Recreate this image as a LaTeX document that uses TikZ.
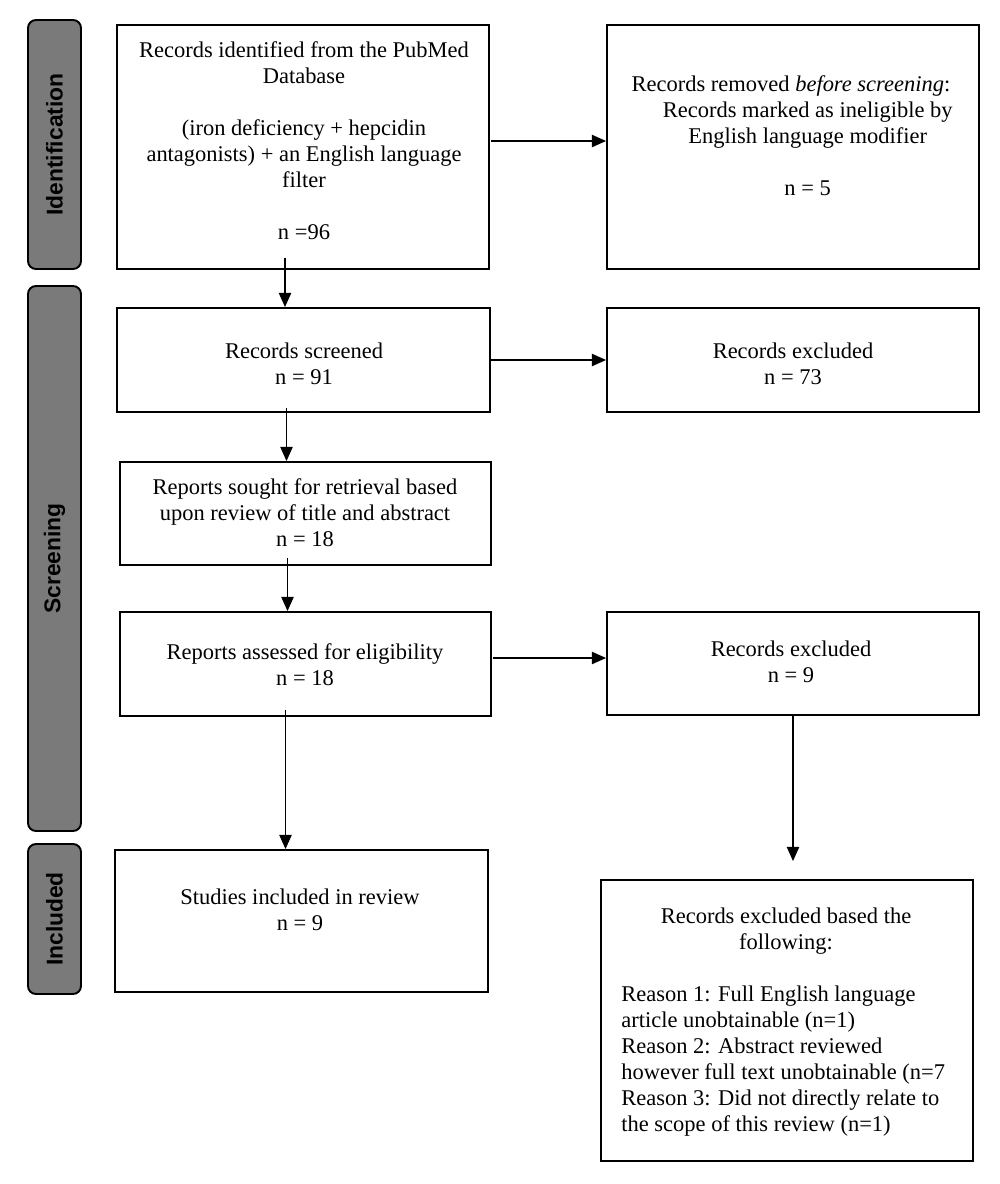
\documentclass[tikz,border=0pt]{standalone}
\usepackage{fontspec}
\setmainfont{Liberation Serif}
\newfontfamily\barfont{Liberation Sans}
\usetikzlibrary{arrows.meta,calc,fit}
\definecolor{barfill}{RGB}{122,122,122}
\begin{document}
\begin{tikzpicture}[x=0.02cm,y=-0.02cm,
  box/.style={draw=black,line width=1.1pt,rectangle,inner sep=0pt},
  bar/.style={draw=black,line width=1.1pt,fill=barfill,rounded corners=0.16cm,inner sep=0pt},
  barlabel/.style={rotate=90,font=\barfont\bfseries\fontsize{13}{15}\selectfont,text=black,inner sep=0pt},
  txt/.style={align=center,font=\fontsize{12.8}{14.8}\selectfont,inner sep=0pt},
  txtl/.style={align=left,font=\fontsize{12.8}{14.8}\selectfont,inner sep=0pt,anchor=west},
  arr/.style={-{Triangle[length=8pt,width=7pt]},line width=0.6pt}]
\useasboundingbox (0,0) rectangle (1000,1184);
% side bars
\node[bar,fit={(28,20)(81,269)}] (barI) {};
\node[bar,fit={(28,286)(81,831)}] (barS) {};
\node[bar,fit={(28,844)(81,994)}] (barN) {};
\node[barlabel] (lI) at (barI.center) {Identification};
\node[barlabel] (lS) at (barS.center) {Screening};
\node[barlabel] (lN) at (barN.center) {Included};
% boxes
\node[box,fit={(117,25)(489,269)}] (b1) {};
\node[box,fit={(607,25)(979,269)}] (b2) {};
\node[box,fit={(117,308)(490,412)}] (b3) {};
\node[box,fit={(607,308)(979,412)}] (b4) {};
\node[box,fit={(120,462)(491,565)}] (b5) {};
\node[box,fit={(120,612)(491,716)}] (b6) {};
\node[box,fit={(607,612)(979,715)}] (b7) {};
\node[box,fit={(115,850)(488,992)}] (b8) {};
\node[box,fit={(601,880)(973,1161)}] (b9) {};
% texts
\node[txt] (t1) at (304,141) {Records identified from the PubMed\\Database\\[\baselineskip](iron deficiency + hepcidin\\antagonists) + an English language\\filter\\[\baselineskip]n =96};
\node[txt] (t2) at (791,136) {Records removed \textit{before screening}:\\\hspace*{19pt}Records marked as ineligible by\\\hspace*{19pt}English language modifier\\[\baselineskip]\hspace*{19pt}n = 5};
\node[txt] (t3) at (304,364) {Records screened\\n = 91};
\node[txt] (t4) at (793,364) {Records excluded\\n = 73};
\node[txt] (t5) at (305,513) {Reports sought for retrieval based\\upon review of title and abstract\\n = 18};
\node[txt] (t6) at (305,665) {Reports assessed for eligibility\\n = 18};
\node[txt] (t7) at (791,662) {Records excluded\\n = 9};
\node[txt] (t8) at (300,910) {Studies included in review\\n = 9};
\node[txt] (t9a) at (786,931) {Records excluded based the\\following:};
\node[txtl] (t9b) at (621,1061) {Reason 1: Full English language\\article unobtainable (n=1)\\Reason 2: Abstract reviewed\\however full text unobtainable (n=7\\Reason 3: Did not directly relate to\\the scope of this review (n=1)};
% connector start/end points
\coordinate (s12) at ($(b1.east)+(1,-6)$);
\coordinate (s13) at ($(b1.south)+(-18,-12)$);
\coordinate (s35) at ($(b3.south)+(-17,-5)$);
\coordinate (s56) at ($(b5.south)+(-18,-8)$);
\coordinate (s67) at ($(b6.east)+(1,-6)$);
\coordinate (s68) at ($(b6.south)+(-20,-7)$);
\coordinate (e79) at ($(b7.south |- b9.north)+(0,-18)$);
% connectors
\draw[arr] (s12) -- (s12 -| b2.west);
\draw[arr] (s13) -- (s13 |- b3.north);
\draw[arr] (b3.east) -- (b3.east -| b4.west);
\draw[arr] (s35) -- (s35 |- b5.north);
\draw[arr] (s56) -- (s56 |- b6.north);
\draw[arr] (s67) -- (s67 -| b7.west);
\draw[arr] (s68) -- (s68 |- b8.north);
\draw[arr] (b7.south) -- (e79);
\end{tikzpicture}
\end{document}
